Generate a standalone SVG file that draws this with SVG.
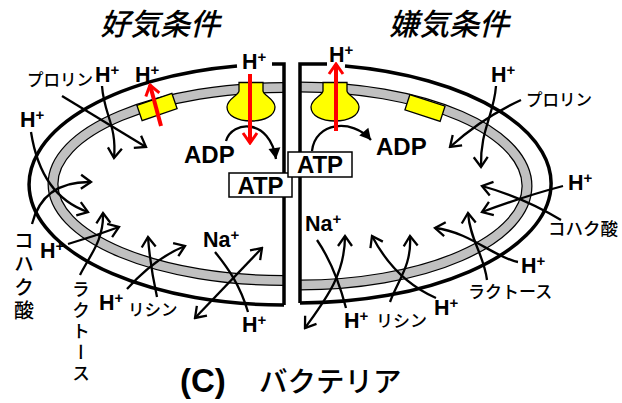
<svg xmlns="http://www.w3.org/2000/svg" width="622" height="403" viewBox="0 0 622 403">
  <style>
    .bg { fill: #ffffff; }
    .outer { fill: none; stroke: #000; stroke-width: 3.5; }
    .band-edge { fill: none; stroke: #000; stroke-width: 11; }
    .band { fill: none; stroke: #c0c0c0; stroke-width: 8.5; }
    .yellow { fill: #ffff00; stroke: #000; stroke-width: 1.3; }
    .flow { fill: none; stroke: #000; stroke-width: 2.3; }
    .red { fill: none; stroke: #ff0000; stroke-width: 4; }
    .box { fill: #fff; stroke: #000; stroke-width: 1.5; }
    .lat { font-family: "Liberation Sans", Arial, sans-serif; font-weight: bold; fill: #000; }
    .ion { font-size: 21.5px; }
    .sup { font-size: 15px; }
    .en { font-size: 24px; }
    .jp { font-family: "Noto Sans CJK JP", "Noto Sans", sans-serif; font-weight: 500; fill: #000; }
    .title { font-size: 30px; font-style: italic; }
    .vert { writing-mode: vertical-rl; }
  </style>
  <defs>
    <marker id="chev" viewBox="-13 -9 15 18" refX="0" refY="0" markerWidth="15" markerHeight="18" orient="auto-start-reverse" markerUnits="userSpaceOnUse">
      <path d="M-10,-7 L0,0 L-10,7" fill="none" stroke="#000" stroke-width="2.3"/>
    </marker>
    <marker id="chev-red" viewBox="-13 -9 15 18" refX="0" refY="0" markerWidth="15" markerHeight="18" orient="auto" markerUnits="userSpaceOnUse">
      <path d="M-10,-7 L0,0 L-10,7" fill="none" stroke="#ff0000" stroke-width="3"/>
    </marker>
    <marker id="tri" viewBox="-13 -8 15 16" refX="0" refY="0" markerWidth="15" markerHeight="16" orient="auto" markerUnits="userSpaceOnUse">
      <path d="M-11,-6 L0,0 L-11,6 Z" fill="#000"/>
    </marker>
  </defs>

  <rect class="bg" x="0" y="0" width="622" height="403"/>

  <!-- headings -->
  <g id="headings">
    <text class="jp title" x="100" y="35">好気条件</text>
    <text class="jp title" x="389" y="35">嫌気条件</text>
  </g>

  <!-- aerobic cell half -->
  <g id="cell-aerobic">
    <path class="band-edge" d="M284,87.5 A231,96.5 0 0 0 284,280.5"/>
    <path class="band" d="M284,87.5 A231,96.5 0 0 0 284,280.5"/>
    <path class="outer" d="M237,66 A254,120.5 0 0 0 284,305"/>
    <path class="outer" d="M272,64 H284 V305" stroke-linejoin="miter"/>
  </g>

  <!-- anaerobic cell half -->
  <g id="cell-anaerobic">
    <path class="band-edge" d="M300,87 A227,99 0 0 1 300,285"/>
    <path class="band" d="M300,87 A227,99 0 0 1 300,285"/>
    <path class="outer" d="M345,66 A252,119.5 0 0 1 300,303"/>
    <path class="outer" d="M327,64 H300 V303" stroke-linejoin="miter"/>
  </g>

  <!-- ATP synthases -->
  <g id="synthase-aerobic">
    <path class="yellow" d="M239,82.5 H263 V91 C263,95 275,99 275,107 C275,116 264,121 251,121 C238,121 227,116 227,107 C227,99 239,95 239,91 Z"/>
  </g>
  <g id="synthase-anaerobic">
    <path class="yellow" d="M323,82.5 H347 V91 C347,95 359,99 359,107 C359,116 348,121 335,121 C322,121 311,116 311,107 C311,99 323,95 323,91 Z"/>
  </g>

  <!-- transporters -->
  <g id="transporter-aerobic">
    <rect class="yellow" x="-18.5" y="-8" width="37" height="16" transform="translate(157,107) rotate(-19)"/>
  </g>
  <g id="transporter-anaerobic">
    <rect class="yellow" x="-18.5" y="-8" width="37" height="16" transform="translate(425,108) rotate(18)"/>
  </g>

  <!-- connectors -->
  <g id="connectors">
    <!-- aerobic side -->
    <path class="flow" d="M62,96 L146,147" marker-end="url(#chev)"/>
    <path class="flow" d="M102,86 C104,115 117,125 114,158" marker-end="url(#chev)"/>
    <path class="flow" d="M31,132 Q41,196 88,212" marker-end="url(#chev)"/>
    <path class="flow" d="M32,224 Q43,181 91,182" marker-end="url(#chev)"/>
    <path class="flow" d="M68,244 Q95,236 119,227" marker-end="url(#chev)"/>
    <path class="flow" d="M80,275 C90,255 104,240 103,213" marker-end="url(#chev)"/>
    <path class="flow" d="M127,289 Q155,258 185,246" marker-end="url(#chev)"/>
    <path class="flow" d="M157,297 Q150,265 148,237" marker-end="url(#chev)"/>
    <path class="flow" d="M215,252 C228,268 240,285 248,312"/>
    <path class="flow" d="M195,318 L262,248" marker-start="url(#chev)" marker-end="url(#chev)"/>
    <path class="flow" d="M226,141 C232,120 270,118 276,159" marker-end="url(#tri)"/>

    <!-- anaerobic side -->
    <path class="flow" d="M496,86 C494,115 480,130 481,167" marker-end="url(#chev)"/>
    <path class="flow" d="M521,100 Q482,118 450,147" marker-end="url(#chev)"/>
    <path class="flow" d="M563,186 Q525,196 482,212" marker-end="url(#chev)"/>
    <path class="flow" d="M561,220 Q525,198 482,186" marker-end="url(#chev)"/>
    <path class="flow" d="M518,262 C495,258 470,232 435,228" marker-end="url(#chev)"/>
    <path class="flow" d="M487,280 C484,255 470,240 468,213" marker-end="url(#chev)"/>
    <path class="flow" d="M436,298 Q395,280 372,236" marker-end="url(#chev)"/>
    <path class="flow" d="M390,302 C398,280 412,265 410,236" marker-end="url(#chev)"/>
    <path class="flow" d="M317,240 C332,262 340,285 346,308"/>
    <path class="flow" d="M305,328 C325,300 345,275 345,236" marker-start="url(#chev)" marker-end="url(#chev)"/>
    <path class="flow" d="M312,151 C315,122 352,118 371,140" marker-end="url(#tri)"/>

    <!-- proton flows through the membrane proteins -->
    <path class="red" d="M161,126 L150,85" marker-end="url(#chev-red)"/>
    <path class="red" d="M250,74 L250,143" marker-end="url(#chev-red)"/>
    <path class="red" d="M336,131 L336,64" marker-end="url(#chev-red)"/>
  </g>

  <!-- ATP boxes -->
  <g id="atp-aerobic">
    <rect class="box" x="229" y="173" width="63" height="24"/>
    <text class="lat en" x="260.5" y="193.5" text-anchor="middle">ATP</text>
  </g>
  <g id="atp-anaerobic">
    <rect class="box" x="288" y="152" width="64" height="25"/>
    <text class="lat en" x="320" y="173" text-anchor="middle">ATP</text>
  </g>

  <!-- labels: aerobic side -->
  <g id="labels-aerobic">
    <text class="lat en" x="184" y="163">ADP</text>
    <text class="lat ion" x="95" y="82">H<tspan class="sup" dy="-7">+</tspan></text>
    <text class="lat ion" x="135" y="82">H<tspan class="sup" dy="-7">+</tspan></text>
    <text class="lat ion" x="242" y="69">H<tspan class="sup" dy="-7">+</tspan></text>
    <text class="lat ion" x="20" y="127">H<tspan class="sup" dy="-7">+</tspan></text>
    <text class="lat ion" x="40" y="258">H<tspan class="sup" dy="-7">+</tspan></text>
    <text class="lat ion" x="99" y="310">H<tspan class="sup" dy="-7">+</tspan></text>
    <text class="lat ion" x="242" y="332">H<tspan class="sup" dy="-7">+</tspan></text>
    <text class="lat ion" x="203" y="247">Na<tspan class="sup" dy="-7">+</tspan></text>
    <text class="jp" x="27" y="86" font-size="16.5">プロリン</text>
    <text class="jp" x="128" y="316" font-size="16.5">リシン</text>
    <text class="jp vert" x="24" y="230" font-size="20" letter-spacing="3.5">コハク酸</text>
    <text class="jp vert" x="81" y="280" font-size="18" letter-spacing="3">ラクトース</text>
  </g>

  <!-- labels: anaerobic side -->
  <g id="labels-anaerobic">
    <text class="lat en" x="376" y="155">ADP</text>
    <text class="lat ion" x="329" y="62">H<tspan class="sup" dy="-7">+</tspan></text>
    <text class="lat ion" x="491" y="82">H<tspan class="sup" dy="-7">+</tspan></text>
    <text class="lat ion" x="568" y="190">H<tspan class="sup" dy="-7">+</tspan></text>
    <text class="lat ion" x="521" y="273">H<tspan class="sup" dy="-7">+</tspan></text>
    <text class="lat ion" x="434" y="315">H<tspan class="sup" dy="-7">+</tspan></text>
    <text class="lat ion" x="344" y="328">H<tspan class="sup" dy="-7">+</tspan></text>
    <text class="lat ion" x="305" y="231">Na<tspan class="sup" dy="-7">+</tspan></text>
    <text class="jp" x="526" y="106" font-size="16.5">プロリン</text>
    <text class="jp" x="376" y="327" font-size="17">リシン</text>
    <text class="jp" x="468" y="298" font-size="17">ラクトース</text>
    <text class="jp" x="548" y="235" font-size="17.5">コハク酸</text>
  </g>

  <!-- caption -->
  <g id="caption">
    <text class="lat" x="180" y="392" font-size="33">(C)</text>
    <text class="jp" x="259" y="392" font-size="28.5">バクテリア</text>
  </g>
</svg>
